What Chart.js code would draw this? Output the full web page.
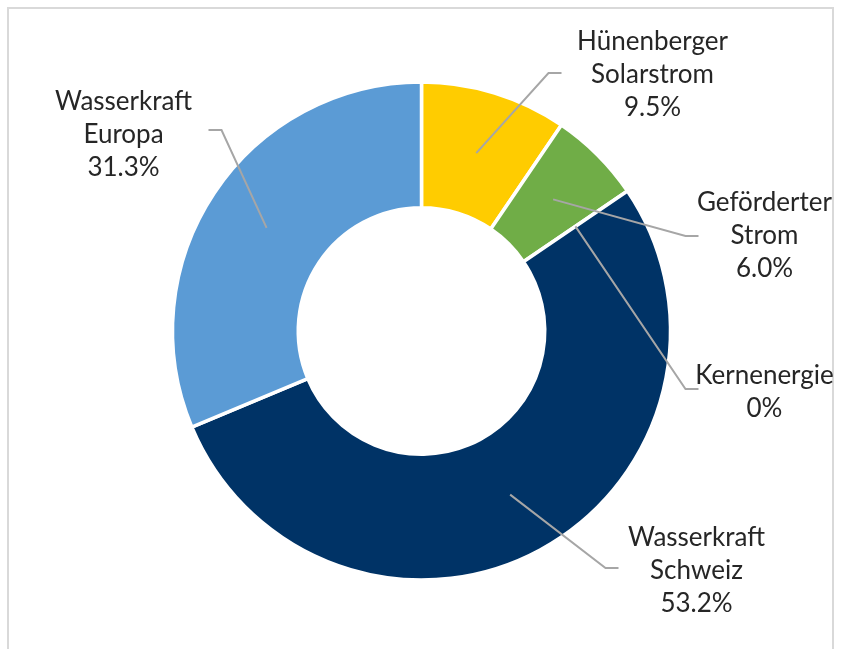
<!DOCTYPE html>
<html>
<head>
<meta charset="utf-8">
<script src="https://cdn.jsdelivr.net/npm/chart.js@4"></script>
<style>
  html, body { margin: 0; padding: 0; background: #fff; }
  #wrap { position: relative; width: 842px; height: 649px; }
</style>
</head>
<body>
<div id="wrap"><canvas id="mix" width="842" height="649"></canvas></div>
<script>
// Strommix data
const categories = [
  ['Hünenberger', 'Solarstrom'],
  ['Geförderter', 'Strom'],
  ['Kernenergie'],
  ['Wasserkraft', 'Schweiz'],
  ['Wasserkraft', 'Europa'],
];
const shares = [9.5, 6.0, 0, 53.2, 31.3];
const sliceColors = ['#FFCC00', '#70AD47', '#A5A5A5', '#003366', '#5B9BD5'];

// label placement, relative to the doughnut centre: text centre + leader end
const labelSpots = [
  { tx: 231, ty: -256, lx: 140, ly: -258 },
  { tx: 343, ty: -95, lx: 277, ly: -95 },
  { tx: 343, ty: 61, lx: 277, ly: 58 },
  { tx: 275, ty: 240, lx: 197, ly: 237 },
  { tx: -298, ty: -196, lx: -213, ly: -201 },
];

const FONT = '26px Lato';
const LINE_H = 33;

function fmtPct(v) {
  return v === 0 ? '0%' : v.toFixed(1) + '%';
}

const labelPlugin = {
  id: 'leaderLabels',
  beforeDraw(chart) {
    const ctx = chart.ctx;
    ctx.save();
    ctx.strokeStyle = '#d9d9d9';
    ctx.lineWidth = 2;
    ctx.strokeRect(8, 8, 825, 700);
    ctx.restore();
  },
  afterDraw(chart) {
    const ctx = chart.ctx;
    const meta = chart.getDatasetMeta(0);
    ctx.save();
    meta.data.forEach((arc, i) => {
      const cx = arc.x, cy = arc.y;
      const spot = labelSpots[i];
      const start = arc.tooltipPosition();
      const endX = cx + spot.lx, endY = cy + spot.ly;
      const elbowX = endX + (spot.lx > 0 ? -13 : 13);
      ctx.strokeStyle = '#a6a6a6';
      ctx.lineWidth = 2;
      ctx.beginPath();
      ctx.moveTo(start.x, start.y);
      ctx.lineTo(elbowX, endY);
      ctx.lineTo(endX, endY);
      ctx.stroke();

      const lines = categories[i].concat([fmtPct(shares[i])]);
      ctx.fillStyle = '#262626';
      ctx.font = FONT;
      ctx.textAlign = 'center';
      ctx.textBaseline = 'middle';
      const top = cy + spot.ty - (lines.length - 1) * LINE_H / 2;
      lines.forEach((ln, k) => {
        ctx.fillText(ln, cx + spot.tx, top + k * LINE_H);
      });
    });
    ctx.restore();
  },
};

new Chart(document.getElementById('mix'), {
  type: 'doughnut',
  data: {
    labels: categories,
    datasets: [{
      data: shares,
      backgroundColor: sliceColors,
      borderColor: '#ffffff',
      borderWidth: 3.5,
      radius: 249,
    }],
  },
  options: {
    responsive: false,
    animation: false,
    cutout: '49.5%',
    layout: { padding: { left: 1, right: 0, top: 13, bottom: 0 } },
    plugins: {
      legend: { display: false },
      tooltip: { enabled: false },
    },
  },
  plugins: [labelPlugin],
});
</script>
</body>
</html>
